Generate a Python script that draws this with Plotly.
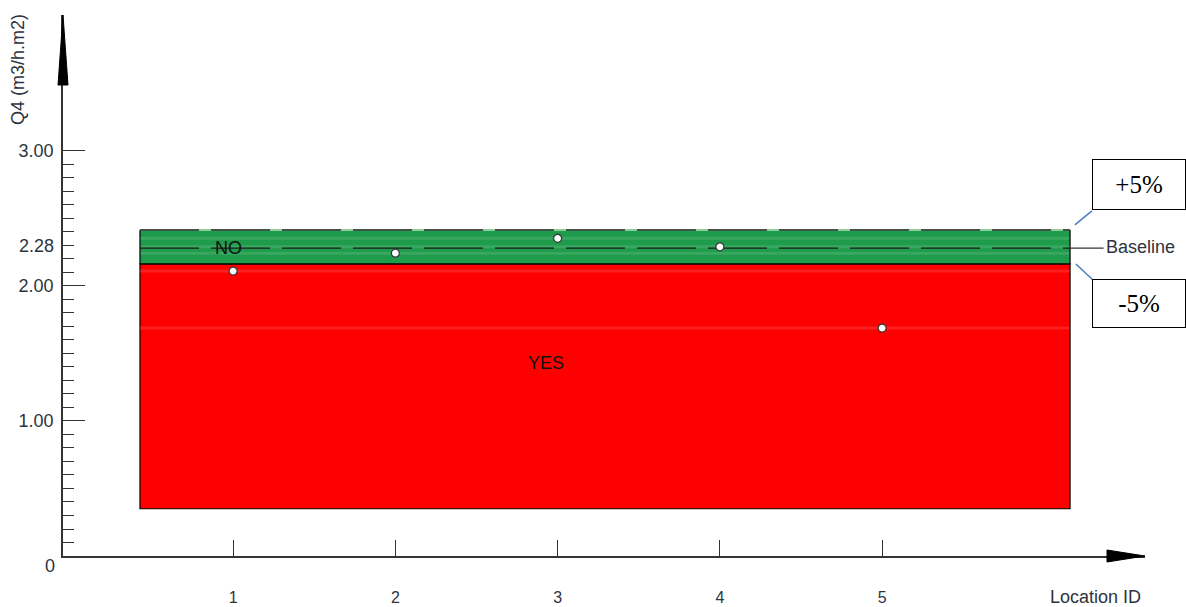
import plotly.graph_objects as go

# ---------------- data ----------------
locations = [1, 2, 3, 4, 5]
q4_values = [2.11, 2.243, 2.353, 2.29, 1.688]
tick_labels_x = ["1", "2", "3", "4", "5"]

baseline_value = 2.28
band_low = 2.163          # -5 % edge (top of the red "YES" zone)
band_high = 2.415         # +5 % edge (top of the green "NO" zone)
zone_bottom = 0.35        # bottom of the red zone
zone_x = [0.426, 6.158]   # horizontal extent of the zones

y_major_vals = [1, 2, 3]
y_major_text = ["1.00", "2.00", "3.00"]
y_minor_vals = [round(0.1 * i, 1) for i in range(1, 30) if i % 10 != 0]

x_range = [-0.0484, 6.62]
y_range = [0, 4.007]

# ---------------- style ----------------
FONT = "Liberation Sans, Arial, sans-serif"
SERIF = "'Liberation Serif', 'Times New Roman', 'DejaVu Serif', serif"
TXT = "#2d3340"
AX = "#333333"
GREEN = "#1e9b4b"
RED = "#ff0000"

ML, MR, MT, MB = 63, 41, 15, 51
W, H = 1186, 607
pw, ph = float(W - ML - MR), float(H - MT - MB)


def px_x(p):
    return (p - ML) / pw


def px_y(p):
    return (H - MB - p) / ph


fig = go.Figure()

shapes = []
# red YES zone
shapes.append(dict(type="rect", xref="x", yref="y", x0=zone_x[0], x1=zone_x[1],
                   y0=zone_bottom, y1=band_low, fillcolor=RED,
                   line=dict(color="#000000", width=1.2), layer="below"))
# green NO zone
shapes.append(dict(type="rect", xref="x", yref="y", x0=zone_x[0], x1=zone_x[1],
                   y0=band_low, y1=band_high, fillcolor=GREEN,
                   line=dict(width=0), layer="below"))
# faint stripes at each value
for v in q4_values:
    shapes.append(dict(type="line", xref="x", yref="y", x0=zone_x[0], x1=zone_x[1],
                       y0=v, y1=v, line=dict(color="rgba(255,255,255,0.12)", width=3),
                       layer="below"))
# green zone sides and bottom
for (xa, ya, xb, yb) in [(zone_x[0], band_low, zone_x[0], band_high),
                         (zone_x[1], band_low, zone_x[1], band_high),
                         (zone_x[0], band_low, zone_x[1], band_low)]:
    shapes.append(dict(type="line", xref="x", yref="y", x0=xa, x1=xb, y0=ya, y1=yb,
                       line=dict(color="#000000", width=1.2), layer="below"))
# dashed top edge of green zone
shapes.append(dict(type="line", xref="x", yref="y", x0=zone_x[0], x1=zone_x[1],
                   y0=band_high, y1=band_high, line=dict(color="#8fcc9c", width=2),
                   layer="below"))
shapes.append(dict(type="line", xref="x", yref="y", x0=zone_x[0], x1=zone_x[1],
                   y0=band_high, y1=band_high,
                   line=dict(color="#2a2a2a", width=1.5, dash="59px,12px"), layer="below"))
# baseline dashed + solid extension to its label
shapes.append(dict(type="line", xref="x", yref="y", x0=zone_x[0], x1=zone_x[1],
                   y0=baseline_value, y1=baseline_value,
                   line=dict(color="#1a1a1a", width=1.2, dash="59px,12px"), layer="below"))
shapes.append(dict(type="line", xref="x", yref="y", x0=zone_x[1], x1=6.365,
                   y0=baseline_value, y1=baseline_value,
                   line=dict(color="#333333", width=1.2), layer="below"))
# connector lines to +5% / -5% boxes
shapes.append(dict(type="line", xref="x", yref="y", x0=6.188, y0=2.452, x1=6.293, y1=2.556,
                   line=dict(color="#4a7cc0", width=1.5)))
shapes.append(dict(type="line", xref="x", yref="y", x0=6.194, y0=2.163, x1=6.299, y1=2.044,
                   line=dict(color="#4a7cc0", width=1.5)))

# axis arrowheads (paper coords so they are not clipped)
shapes.append(dict(type="path", xref="paper", yref="paper",
                   path=f"M {-5/pw} {1-70/ph} L {5/pw} {1-70/ph} L 0 1 Z",
                   fillcolor="#000000", line=dict(color="#000000", width=1)))
shapes.append(dict(type="path", xref="paper", yref="paper",
                   path=f"M {1-38/pw} {6/ph} L {1-38/pw} {-6/ph} L 1 0 Z",
                   fillcolor="#000000", line=dict(color="#000000", width=1)))

# data points
fig.add_trace(go.Scatter(
    x=locations, y=q4_values, mode="markers",
    marker=dict(size=8, color="#ffffff", line=dict(color="#333333", width=1.2)),
    showlegend=False, hoverinfo="x+y"))

annotations = [
    dict(text="NO", x=0.97, y=baseline_value, xref="x", yref="y", showarrow=False,
         xanchor="center", yanchor="middle",
         font=dict(family=FONT, size=18, color="#111111")),
    dict(text="YES", x=2.93, y=1.43, xref="x", yref="y", showarrow=False,
         xanchor="center", yanchor="middle",
         font=dict(family=FONT, size=18, color="#111111")),
    dict(text="Baseline", x=6.37, y=baseline_value + 0.01, xref="x", yref="y", showarrow=False,
         xanchor="left", yanchor="middle", font=dict(family=FONT, size=18, color=TXT)),
    dict(text="+5%", x=6.580, y=2.748, xref="x", yref="y", showarrow=False,
         xanchor="center", yanchor="middle",
         width=92, height=49, borderwidth=1, bordercolor="#000000", borderpad=0,
         bgcolor="#ffffff",
         font=dict(family=SERIF, size=25, color="#000000")),
    dict(text="-5%", x=6.585, y=1.867, xref="x", yref="y", showarrow=False,
         xanchor="center", yanchor="middle",
         width=92, height=47, borderwidth=1, bordercolor="#000000", borderpad=0,
         bgcolor="#ffffff",
         font=dict(family=SERIF, size=25, color="#000000")),
    dict(text="0", x=px_x(50), y=px_y(566), xref="paper", yref="paper", showarrow=False,
         xanchor="center", yanchor="middle",
         font=dict(family=FONT, size=18, color=TXT)),
    dict(text="2.28", x=px_x(56), y=px_y(246), xref="paper", yref="paper", showarrow=False,
         xanchor="right", yanchor="middle", font=dict(family=FONT, size=18, color=TXT)),
    dict(text="Q4 (m3/h.m2)", x=px_x(18), y=px_y(70), xref="paper", yref="paper",
         showarrow=False, textangle=-90, xanchor="center", yanchor="middle",
         font=dict(family=FONT, size=18, color=TXT)),
    dict(text="Location ID", x=px_x(1095.5), y=px_y(597), xref="paper", yref="paper",
         showarrow=False, xanchor="center", yanchor="middle",
         font=dict(family=FONT, size=18, color=TXT)),
]

fig.update_layout(
    width=W, height=H,
    margin=dict(l=ML, r=MR, t=MT, b=MB, autoexpand=False),
    paper_bgcolor="#ffffff", plot_bgcolor="#ffffff",
    shapes=shapes, annotations=annotations,
    showlegend=False,
    xaxis=dict(range=x_range, showgrid=False, zeroline=False, automargin=False,
               showline=True, linecolor=AX, linewidth=1.5,
               tickmode="array", tickvals=locations, ticktext=tick_labels_x,
               ticks="inside", ticklen=16, tickwidth=1, tickcolor=AX,
               ticklabelstandoff=26,
               tickfont=dict(family=FONT, size=16, color=TXT)),
    yaxis=dict(range=y_range, showgrid=False, zeroline=False, automargin=False,
               showline=True, linecolor=AX, linewidth=1.5,
               tickmode="array", tickvals=y_major_vals, ticktext=y_major_text,
               ticks="inside", ticklen=22, tickwidth=1.2, tickcolor=AX,
               ticklabelstandoff=4,
               minor=dict(tickmode="array", tickvals=y_minor_vals, ticks="inside",
                          ticklen=11, tickwidth=1.2, tickcolor=AX),
               tickfont=dict(family=FONT, size=18, color=TXT)),
)

fig.write_html(
    "out.html",
    config={"displayModeBar": False},
    post_script="document.body.style.margin='0';document.body.style.overflow='hidden';",
)
